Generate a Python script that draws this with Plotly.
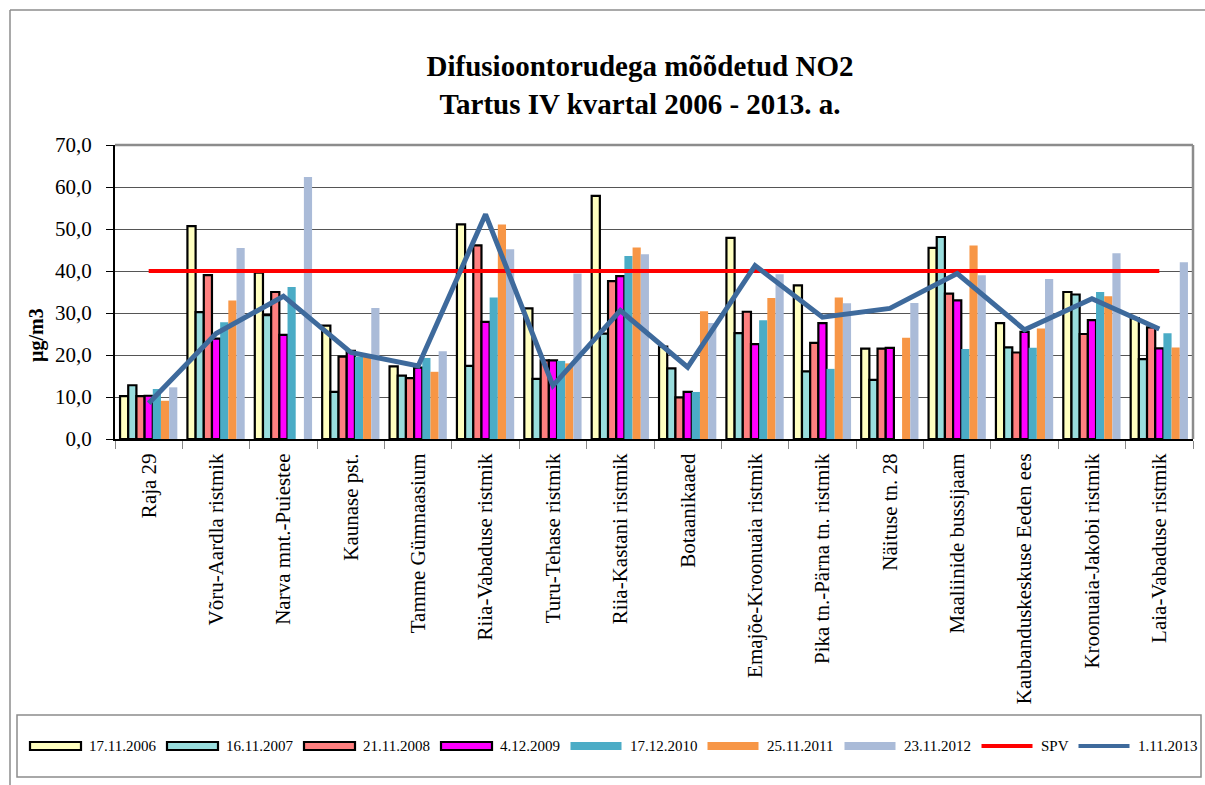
import plotly.graph_objects as go

categories = ["Raja 29", "Võru-Aardla ristmik", "Narva mnt.-Puiestee", "Kaunase pst.",
              "Tamme Gümnaasium", "Riia-Vabaduse ristmik", "Turu-Tehase ristmik",
              "Riia-Kastani ristmik", "Botaanikaaed", "Emajõe-Kroonuaia ristmik",
              "Pika tn.-Pärna tn. ristmik", "Näituse tn. 28", "Maaliinide bussijaam",
              "Kaubanduskeskuse Eeden ees", "Kroonuaia-Jakobi ristmik", "Laia-Vabaduse ristmik"]

v2006 = [10.2, 50.7, 39.6, 27.0, 17.3, 51.1, 31.1, 57.9, 22.0, 47.9, 36.6, 21.5, 45.5, 27.6, 35.0, 28.8]
v2007 = [12.8, 30.2, 29.5, 11.2, 15.1, 17.4, 14.3, 25.1, 16.8, 25.2, 16.1, 14.1, 48.1, 21.8, 34.4, 19.0]
v2008 = [10.2, 39.0, 35.0, 19.6, 14.5, 46.1, 18.7, 37.6, 9.9, 30.3, 22.9, 21.5, 34.6, 20.6, 25.0, 26.6]
v2009 = [10.3, 23.9, 24.8, 21.0, 17.0, 27.9, 18.7, 38.8, 11.2, 22.6, 27.6, 21.7, 33.0, 25.5, 28.3, 21.6]
v2010 = [11.9, 27.8, 36.2, 19.6, 19.3, 33.7, 18.6, 43.6, 11.2, 28.3, 16.7, None, 21.4, 21.7, 35.0, 25.2]
v2011 = [9.1, 33.0, None, 19.6, 16.0, 51.1, 18.0, 45.6, 30.4, 33.6, 33.7, 24.1, 46.1, 26.3, 34.0, 21.8]
v2012 = [12.3, 45.5, 62.4, 31.2, 20.9, 45.2, 39.4, 44.0, 27.6, 39.2, 32.3, 32.4, 39.0, 38.1, 44.2, 42.1]
v2013 = [8.5, 25.1, 34.0, 20.6, 17.4, 53.5, 12.7, 30.6, 17.1, 41.3, 29.0, 31.1, 39.4, 26.0, 33.4, 26.2]
spv = [40, 40, 40, 40, 40, 40, 40, 40, 40, 40, 40, 40, 40, 40, 40, 40]

bar_names = ["17.11.2006", "16.11.2007", "21.11.2008", "4.12.2009", "17.12.2010", "25.11.2011", "23.11.2012"]
bar_values = [v2006, v2007, v2008, v2009, v2010, v2011, v2012]
bar_colors = ["#FFFFC0", "#99DDDD", "#FF8080", "#FF00FF", "#4BACC6", "#F79646", "#AABBD8"]
bar_outlined = [True, True, True, True, False, False, False]

y_ticks = [0, 10, 20, 30, 40, 50, 60, 70]

FONT = "Liberation Serif, Times New Roman, serif"
W, H = 1205, 785
L, R, T, B = 115, 12, 145, 346
PW, PH = W - L - R, H - T - B


def px(x):
    return (x - L) / PW


def py(y):
    return (H - B - y) / PH


fig = go.Figure()
for name, vals, col, outl in zip(bar_names, bar_values, bar_colors, bar_outlined):
    fig.add_trace(go.Bar(
        x=categories, y=vals, name=name, marker_color=col,
        marker_line=dict(color="black", width=2.2 if outl else 0),
        showlegend=False))

fig.add_trace(go.Scatter(x=categories, y=spv, name="SPV", mode="lines",
                         line=dict(color="#FF0000", width=4), showlegend=False))
fig.add_trace(go.Scatter(x=categories, y=v2013, name="1.11.2013", mode="lines",
                         line=dict(color="#3E6A9C", width=5), showlegend=False))

shapes = []
annotations = []
# outer chart border (only left and top edges fall inside the page)
shapes.append(dict(type="line", xref="paper", yref="paper", x0=px(10), x1=px(1205),
                   y0=py(10), y1=py(10), line=dict(color="#8C8C8C", width=1.5), layer="below"))
shapes.append(dict(type="line", xref="paper", yref="paper", x0=px(10), x1=px(10),
                   y0=py(10), y1=py(785), line=dict(color="#8C8C8C", width=1.5), layer="below"))
# plot area border (top/right grey)
shapes.append(dict(type="line", xref="paper", yref="paper", x0=0, x1=1, y0=1, y1=1,
                   line=dict(color="#8C8C8C", width=2.5)))
shapes.append(dict(type="line", xref="paper", yref="paper", x0=1, x1=1, y0=0, y1=1,
                   line=dict(color="#8C8C8C", width=2.5)))
# legend box
shapes.append(dict(type="rect", xref="paper", yref="paper", x0=px(17), x1=px(1201),
                   y0=py(777), y1=py(715), line=dict(color="#8C8C8C", width=1.5)))

leg_names = bar_names + ["SPV", "1.11.2013"]
leg_text_w = [67.5, 67.5, 67.5, 60, 67.5, 67.5, 67.5, 27.5, 60]
cx = 30
ly = 746
for i, name in enumerate(leg_names):
    if i < 7:
        shapes.append(dict(type="rect", xref="paper", yref="paper",
                           x0=px(cx), x1=px(cx + 51), y0=py(ly + 4), y1=py(ly - 4),
                           fillcolor=bar_colors[i],
                           line=dict(color="black", width=2.2 if bar_outlined[i] else 0)))
    else:
        col = "#FF0000" if name == "SPV" else "#3E6A9C"
        shapes.append(dict(type="line", xref="paper", yref="paper",
                           x0=px(cx), x1=px(cx + 51), y0=py(ly), y1=py(ly),
                           line=dict(color=col, width=4)))
    annotations.append(dict(text=name, xref="paper", yref="paper", x=px(cx + 57), y=py(ly),
                            xanchor="left", yanchor="middle", showarrow=False,
                            font=dict(family=FONT, size=15, color="black")))
    cx += 51 + 7 + leg_text_w[i] + 11.5

# y axis title
annotations.append(dict(text="<b>µg/m3</b>", xref="paper", yref="paper", x=px(36), y=py(335),
                        xanchor="center", yanchor="middle", textangle=-90, showarrow=False,
                        font=dict(family=FONT, size=20, color="black")))

fig.update_layout(
    width=W, height=H,
    margin=dict(l=L, r=R, t=T, b=B, pad=0),
    paper_bgcolor="white", plot_bgcolor="white",
    barmode="group", bargap=0.15, bargroupgap=0,
    separators=", ",
    font=dict(family=FONT, size=21, color="black"),
    title=dict(text="<b>Difusioontorudega mõõdetud NO2<br>Tartus IV kvartal 2006 - 2013. a.</b>",
               x=640 / W, xanchor="center", xref="container",
               y=1 - 76 / H, yanchor="middle", yref="container",
               font=dict(family=FONT, size=29, color="black")),
    shapes=shapes, annotations=annotations,
    showlegend=False,
)
fig.update_xaxes(type="category", range=[-0.5, len(categories) - 0.5],
                 tickangle=-90, tickson="boundaries", ticks="outside", ticklen=8,
                 tickcolor="#888888", showline=True, linecolor="black", linewidth=2,
                 showgrid=False, tickfont=dict(family=FONT, size=21, color="black"),
                 ticklabelstandoff=4)
fig.update_yaxes(range=[0, 70], tickvals=y_ticks, tickformat=".1f",
                 ticks="outside", ticklen=7, tickcolor="black", showline=True,
                 linecolor="black", linewidth=2, showgrid=True, gridcolor="#555555",
                 gridwidth=1, zeroline=False, tickfont=dict(family=FONT, size=21, color="black"),
                 ticklabelstandoff=10)

fig.write_html("out.html", config={"displayModeBar": False},
               post_script="document.body.style.margin='0';document.body.style.overflow='hidden';")
